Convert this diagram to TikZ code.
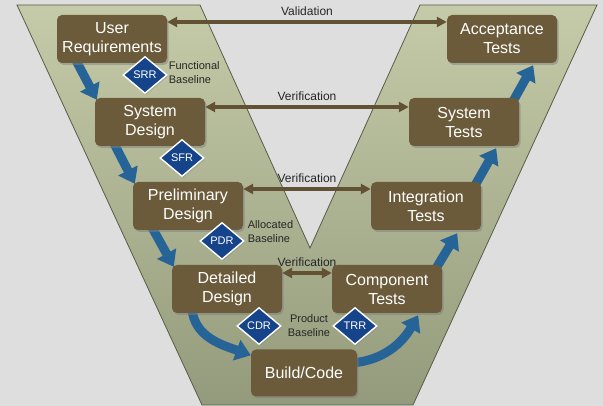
\documentclass[tikz,border=0pt]{standalone}
\usepackage{fontspec}
\setmainfont{Liberation Sans}
\usepackage{xcolor}
\usepackage{tikz}
\usetikzlibrary{shapes,arrows.meta,shadows}
\usetikzlibrary{backgrounds}
\usetikzlibrary{calc}

\definecolor{pagegray}{RGB}{222,222,222}
\definecolor{vtop}{RGB}{197,203,168}
\definecolor{vbottom}{RGB}{148,155,124}
\definecolor{vedge}{RGB}{88,92,72}
\definecolor{boxbrown}{RGB}{108,91,58}
\definecolor{linkbrown}{RGB}{98,81,50}
\definecolor{flowblue}{RGB}{38,99,150}
\definecolor{reviewblue}{RGB}{22,68,138}

\begin{document}
\begin{tikzpicture}[x=1pt,y=1pt]

		\tikzstyle{phase}  = [rectangle, rounded corners=5pt, fill=boxbrown, text=white, minimum width=110pt, minimum height=48pt, inner sep=2pt, align=center, font=\fontsize{16}{19}\selectfont, drop shadow={shadow xshift=1.5pt, shadow yshift=-2pt, opacity=0.5}]
		\tikzstyle{review} = [diamond, fill=reviewblue, draw=white, line width=1.4pt, text=white, inner sep=0pt, minimum width=44pt, minimum height=37pt, font=\fontsize{11}{13}\selectfont, drop shadow={shadow xshift=1pt, shadow yshift=-1.5pt, opacity=0.4}]
		\tikzstyle{note}   = [inner sep=1pt, align=left, text=black!85, font=\fontsize{11}{14}\selectfont]
		\tikzstyle{link}   = [{Triangle[width=10pt,length=10pt]}-{Triangle[width=10pt,length=10pt]}, draw=linkbrown, line width=3.5pt]
		\tikzstyle{flow}   = [-{Triangle[width=21pt,length=15pt]}, draw=flowblue, line width=9pt]
		\tikzstyle{vlabel} = [midway, above, yshift=1pt, text=black!85, font=\fontsize{12}{14}\selectfont]

		\useasboundingbox (0,0) rectangle (603,406);

		\node [phase](ureq) at (112,367) {User\\Requirements};
		\node [phase](sysd) at ($(ureq)+(38,-83)$) {System\\Design};
		\node [phase](prel) at ($(sysd)+(38,-84)$) {Preliminary\\Design};
		\node [phase](det) at ($(prel)+(39,-83)$) {Detailed\\Design};
		\node [phase, minimum width=106pt, minimum height=47pt](build) at (304,33) {Build/Code};
		\node [phase](comp) at (387,117) {Component\\Tests};
		\node [phase](integ) at ($(comp)+(39,83)$) {Integration\\Tests};
		\node [phase](syst) at ($(integ)+(38,84)$) {System\\Tests};
		\node [phase](acc) at ($(syst)+(38,83)$) {Acceptance\\Tests};

		\node [review](srr) at ($(ureq)+(33,-36)$) {SRR};
		\node [review](sfr) at ($(sysd)+(32,-36)$) {SFR};
		\node [review](pdr) at ($(prel)+(34,-35)$) {PDR};
		\node [review](cdr) at ($(det)+(32,-37)$) {CDR};
		\node [review](trr) at ($(comp)+(-32,-37)$) {TRR};

		\node [note, anchor=west](fbase) at ($(srr.east)+(0,2)$) {Functional\\Baseline};
		\node [note, anchor=west](abase) at ($(pdr.east)+(2,9)$) {Allocated\\Baseline};
		\node [note, anchor=west, align=center](pbase) at ($(cdr.east)+(5,0)$) {Product\\Baseline};

		\draw [link] ([yshift=17pt]ureq.east) -- node[vlabel](val){Validation} ([yshift=17pt]acc.west);
		\draw [link] ([yshift=15pt]sysd.east) -- node[vlabel](ver1){Verification} ([yshift=15pt]syst.west);
		\draw [link] ([yshift=17pt]prel.east) -- node[vlabel](ver2){Verification} ([yshift=17pt]integ.west);
		\draw [link] ([yshift=16pt]det.east) -- node[vlabel](ver3){Verification} ([yshift=16pt]comp.west);

		\begin{pgfonlayer}{background}
			\fill [pagegray] (0,0) rectangle (603,406);
			\shadedraw [top color=vtop, bottom color=vbottom, draw=vedge, line width=0.8pt] (17,401) -- (200,401) -- (310,158) -- (420,401) -- (597,401) -- (413,1) -- (202,1) -- cycle;
			\draw [flow] ([xshift=18pt,yshift=5pt]ureq.south west) -- ([xshift=2pt,yshift=-2pt]sysd.north west);
			\draw [flow] ([xshift=18pt,yshift=5pt]sysd.south west) -- ([xshift=2pt,yshift=-2pt]prel.north west);
			\draw [flow] ([xshift=18pt,yshift=5pt]prel.south west) -- ([xshift=2pt,yshift=-2pt]det.north west);
			\draw [flow] ([xshift=20pt,yshift=5pt]det.south west) to[out=-85,in=160] ([yshift=-6pt]build.north west);
			\draw [flow] ([xshift=-5pt,yshift=10pt]build.east) to[out=5,in=-120] ([xshift=-24pt,yshift=-2pt]comp.south east);
			\draw [flow] ([xshift=-7pt,yshift=-5pt]comp.north east) -- ([xshift=-24pt,yshift=-3pt]integ.south east);
			\draw [flow] ([xshift=-7pt,yshift=-5pt]integ.north east) -- ([xshift=-23pt,yshift=-2pt]syst.south east);
			\draw [flow] ([xshift=-7pt,yshift=-5pt]syst.north east) -- ([xshift=-24pt,yshift=-2pt]acc.south east);
		\end{pgfonlayer}

	\end{tikzpicture}
\end{document}
